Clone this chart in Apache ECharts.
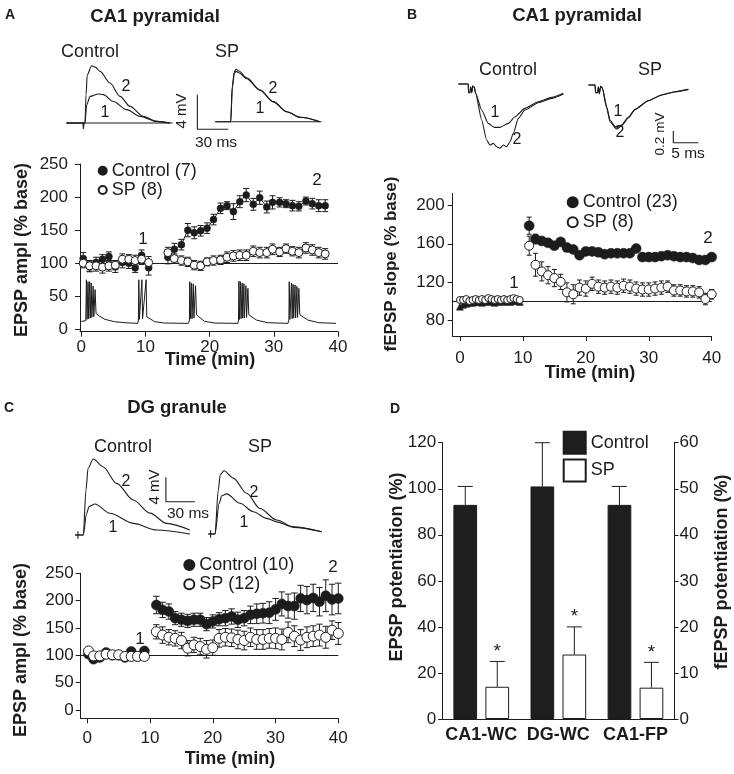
<!DOCTYPE html>
<html>
<head>
<meta charset="utf-8">
<script src="https://cdn.jsdelivr.net/npm/echarts@6.0.0/dist/echarts.min.js"></script>
<style>
  html, body { margin: 0; padding: 0; background: #fff; }
  #chart { width: 734px; height: 774px; }
</style>
</head>
<body>
<div id="chart"></div>
<script>
// ---------- panel A : CA1 pyramidal, whole-cell ----------
const aBaseT = [0.3, 1.3, 2.3, 3.3, 4.3, 5.3, 6.4, 7.4, 8.4, 9.4, 10.5]
const aCtrlBase = [107, 95, 101, 106, 110, 95, 101, 100, 93, 112, 93]
const aCtrlBaseErr = [9, 8, 8, 7, 7, 9, 8, 8, 7, 8, 11]
const aSpBase = [100, 96, 96, 94, 96, 97, 106, 106, 104, 106, 101]
const aSpBaseErr = [7, 8, 8, 9, 8, 7, 8, 7, 8, 8, 9]
const aPostT = [13.5, 14.5, 15.6, 16.6, 17.6, 18.6, 19.6, 20.6, 21.7, 22.7, 23.7, 24.7, 25.7, 26.8, 27.8, 28.9, 29.8, 30.9, 31.9, 32.9, 33.9, 35.0, 36.0, 37.0, 38.0]
const aCtrlPost = [109, 121, 128, 150, 146, 149, 153, 166, 183, 187, 178, 193, 203, 189, 199, 185, 192, 192, 190, 187, 186, 194, 190, 187, 187]
const aCtrlPostErr = [10, 9, 8, 10, 9, 8, 8, 8, 8, 6, 12, 9, 10, 9, 10, 9, 10, 7, 6, 8, 7, 6, 8, 9, 9]
const aSpPost = [116, 107, 104, 102, 97, 96, 102, 104, 105, 109, 111, 112, 112, 118, 116, 116, 121, 117, 122, 118, 116, 123, 120, 116, 114]
const aSpPostErr = [8, 7, 7, 7, 7, 7, 6, 7, 7, 8, 8, 8, 8, 8, 8, 8, 8, 7, 7, 7, 8, 8, 8, 8, 8]
// pairing protocol trace under the plot, [min, % units]
const aSpikeTrace = [
  [0.0, 12], [0.7, 13], [0.8, 75], [0.9, 15], [1.05, 72], [1.15, 16], [1.3, 72], [1.4, 17], [1.55, 70], [1.65, 18], [1.85, 65], [1.95, 19], [2.15, 60], [2.3, 24], [2.8, 20], [3.7, 15], [5.2, 11.5], [6.8, 10], [8.8, 9],
  [8.9, 14], [8.97, 75], [9.05, 15], [9.45, 75], [9.55, 16], [10.1, 75], [10.2, 19], [11.45, 11.5], [13, 9.5], [16.7, 9],
  [16.85, 14], [16.9, 72], [17.0, 16], [17.15, 70], [17.25, 16], [17.45, 69], [17.55, 17], [17.8, 66], [17.95, 22], [19.2, 12], [20.8, 9.5], [24.4, 9],
  [24.5, 14], [24.56, 73], [24.65, 15], [24.8, 72], [24.9, 16], [25.07, 70], [25.15, 17], [25.34, 69], [25.4, 17], [25.65, 66], [25.75, 18], [25.96, 62], [26.1, 22], [27.3, 14], [29, 10], [32.2, 9],
  [32.35, 14], [32.4, 72], [32.5, 15], [32.75, 70], [32.85, 16], [33.0, 68], [33.1, 17], [33.3, 67], [33.4, 17], [33.6, 65], [33.7, 18], [33.9, 62], [34.05, 22], [35.3, 14], [37, 10], [39.7, 9]
]
// EPSP traces [ms, mV]
const aCtrlTrace1 = [[-18, 0], [0, 0], [1.6, 2.1], [4.9, 3.1], [12.9, 3.37], [17.8, 3.3], [27.5, 2.5], [40.5, 1.55], [53.4, 0.77], [69.6, 0.19], [82.5, 0]]
const aCtrlTrace2 = [[-18, 0], [0, 0], [1, 3.3], [2.2, 5.6], [6.5, 6.66], [10, 6.5], [14.6, 6.0], [24.3, 4.65], [34, 3.1], [43.7, 1.93], [56.6, 0.77], [69.6, 0.19], [82.5, 0]]
const aSpTrace1 = [[-15, 0], [0, 0], [1.6, 4.0], [3.5, 5.6], [5.1, 5.85], [8, 5.7], [15.5, 5.0], [28.4, 3.65], [41.4, 2.3], [54.4, 1.16], [67.3, 0.51], [86.7, 0]]
const aSpTrace2 = [[-15, 0], [0, 0], [1.6, 4.2], [3.5, 5.8], [5.1, 6.1], [8, 5.9], [15.5, 5.1], [28.4, 3.7], [41.4, 2.33], [54.4, 1.16], [67.3, 0.51], [86.7, 0]]

// ---------- panel B : CA1 pyramidal, field ----------
const bBaseT = [0, 0.5, 1, 1.5, 2, 2.5, 3, 3.5, 4, 4.5, 5, 5.5, 6, 6.5, 7, 7.5, 8, 8.5, 9, 9.5]
const bCtrlBase = [94, 96, 97, 98, 98, 99, 99, 98, 99, 100, 99, 98, 99, 100, 99, 100, 99, 100, 100, 99]
const bSpBase = [101, 101, 102, 100, 101, 102, 101, 102, 101, 103, 102, 101, 102, 101, 102, 101, 102, 103, 102, 101]
const bPostT = [11, 12, 13, 14, 15, 16, 17, 18, 19, 20, 21, 22, 23, 24, 25, 26, 27, 28, 29, 30, 31, 32, 33, 34, 35, 36, 37, 38, 39, 40]
const bCtrlPost = [179, 165, 163, 161, 158, 162, 156, 154, 148, 152, 152, 151, 149, 150, 150, 150, 150, 155, 146, 146, 146, 147, 148, 147, 146, 146, 145, 143, 143, 146]
const bCtrlErr = [9, 5, 4, 4, 3, 3, 3, 3, 3, 3, 3, 3, 3, 3, 3, 3, 3, 3, 3, 3, 3, 3, 3, 3, 3, 3, 3, 3, 3, 3]
const bSpPost = [158, 138, 131, 127, 124, 120, 109, 107, 114, 113, 118, 115, 114, 115, 114, 116, 115, 113, 112, 112, 113, 114, 115, 111, 111, 110, 110, 109, 102, 107]
const bSpErr = [10, 12, 10, 9, 9, 8, 10, 10, 8, 8, 7, 7, 7, 7, 7, 7, 7, 7, 7, 7, 7, 7, 6, 6, 6, 6, 6, 6, 6, 5]
const bCtrlTrace1 = [[-2, 0], [0, 0], [0.05, -0.15], [0.33, -0.15], [0.47, -0.046], [0.67, -0.15], [0.87, -0.034], [1.2, -0.057], [1.47, -0.16], [2.67, -0.446], [4, -0.675], [5.2, -0.743], [6.33, -0.743], [8, -0.675], [9.33, -0.56], [11.3, -0.417], [14, -0.303], [16.7, -0.229], [19, -0.16]]
const bCtrlTrace2 = [[-2, 0], [0, 0], [0.05, -0.15], [0.33, -0.15], [0.47, -0.046], [0.67, -0.15], [0.87, -0.034], [1.2, -0.057], [1.47, -0.16], [2.67, -0.617], [3.67, -0.96], [4.33, -1.046], [5, -1.017], [5.67, -1.075], [6.33, -1.1], [7, -1.046], [7.67, -1.075], [8.33, -0.99], [9, -0.846], [10, -0.589], [11.3, -0.446], [14, -0.32], [16.7, -0.246], [19, -0.17]]
const bSpTrace1 = [[-1.33, 0], [0, 0], [0.13, -0.13], [0.53, -0.13], [0.67, -0.03], [0.87, -0.15], [1.13, -0.02], [1.47, -0.05], [2.33, -0.37], [3, -0.6], [4, -0.715], [5.33, -0.686], [6.67, -0.554], [8, -0.417], [10.67, -0.269], [13.33, -0.17], [16, -0.114], [18.67, -0.074]]
const bSpTrace2 = [[-1.33, 0], [0, 0], [0.13, -0.13], [0.53, -0.13], [0.67, -0.03], [0.87, -0.15], [1.13, -0.02], [1.47, -0.05], [2.33, -0.39], [3, -0.63], [4.33, -0.755], [5.33, -0.70], [6.67, -0.56], [8, -0.42], [10.67, -0.27], [13.33, -0.17], [16, -0.114], [18.67, -0.074]]

// ---------- panel C : DG granule ----------
const cBaseT = [0.2, 1, 2, 3, 4, 5, 6, 7, 8, 9.1]
const cCtrlBase = [102, 93, 96, 105, 100, 100, 96, 107, 98, 108]
const cSpBase = [108, 99, 99, 102, 101, 101, 98, 98, 98, 98]
const cPostT = [11, 12, 13, 14, 15, 16, 17, 18, 19, 20, 21, 22, 23, 24, 25, 26, 27, 28, 29, 30, 31, 32, 33, 34, 35, 36, 37, 38, 39, 40]
const cCtrlPost = [192, 183, 180, 168, 165, 163, 165, 165, 157, 162, 166, 168, 171, 165, 168, 174, 176, 177, 178, 184, 194, 190, 190, 204, 201, 205, 198, 209, 202, 204]
const cCtrlErr = [16, 14, 14, 12, 12, 12, 12, 12, 12, 12, 12, 14, 14, 14, 14, 16, 18, 18, 20, 20, 22, 22, 24, 24, 25, 25, 26, 29, 28, 28]
const cSpPost = [143, 137, 133, 131, 127, 113, 119, 116, 111, 114, 131, 133, 132, 129, 127, 133, 129, 129, 131, 131, 129, 142, 135, 128, 133, 135, 137, 133, 146, 140]
const cSpErr = [13, 15, 14, 14, 15, 14, 14, 15, 16, 14, 16, 16, 16, 17, 17, 17, 18, 18, 18, 19, 19, 19, 19, 19, 19, 19, 20, 20, 17, 20]
const cCtrlTrace1 = [[-8.6, 0], [0, 0], [3.5, 3.57], [6, 4.7], [12.1, 5.1], [27.6, 3.57], [51.7, 1.92], [75.9, 0.82], [110.3, 0.16]]
const cCtrlTrace2 = [[-8.6, 0], [0, 0], [2.8, 7.4], [5, 11], [10.3, 12.5], [20.7, 11.2], [34.5, 8.5], [51.7, 5.76], [69, 3.6], [86.2, 1.92], [110.3, 0.82]]
const cSpTrace1 = [[-6.9, 0], [0, 0], [4.4, 5.05], [7, 6.3], [12.1, 6.6], [25.9, 5.05], [39.6, 3.67], [53.5, 2.58], [63.8, 2.0], [81, 1.1], [110.3, 0.38]]
const cSpTrace2 = [[-6.9, 0], [0, 0], [3.4, 7.2], [5.5, 9.8], [9.3, 10.4], [18.9, 9.2], [32.8, 6.7], [46.5, 4.2], [63.8, 2.3], [81, 1.2], [110.3, 0.38]]

// ---------- panel D : summary ----------
const dGroups = ['CA1-WC', 'DG-WC', 'CA1-FP']
const dCtrl = [93, 101, 46.5]
const dCtrlErr = [8, 19, 4]
const dSp = [14, 28, 6.8]
const dSpErr = [11, 12, 5.5]
const dOnRightAxis = [false, false, true] // CA1-FP is fEPSP, read on the right axis

const INK = '#1c1c1c'
const FONT = '"Liberation Sans", Arial, Helvetica, sans-serif'
const MIN_TICKS = [0, 10, 20, 30, 40]
const BAR_W = 23.7
const BAR_GAP = 8.3

const pairs = (xs, ys) => xs.map((x, i) => [x, ys[i]])
const triples = (xs, ys, es) => xs.map((x, i) => [x, ys[i], es[i]])
const toLeft = (v, i) => dOnRightAxis[i] ? v * 2 : v

function grid (left, top, width, height) {
  return { left, top, width, height, outerBoundsMode: 'none', containLabel: false }
}
function hidden (gi, min, max) {
  return { gridIndex: gi, type: 'value', min, max, show: false }
}
function shownAxis (gi, min, max, ticks, margin, tickLen) {
  return {
    gridIndex: gi, type: 'value', min, max,
    axisLine: { show: true, onZero: false, lineStyle: { color: INK, width: 1 } },
    axisTick: { show: true, length: tickLen || 5, customValues: ticks, lineStyle: { color: INK } },
    axisLabel: { customValues: ticks, margin, fontSize: 17, color: INK, fontFamily: FONT },
    splitLine: { show: false }
  }
}
function trace (ai, data, smooth) {
  return {
    type: 'line', xAxisIndex: ai, yAxisIndex: ai, data, showSymbol: false, silent: true,
    smooth: smooth === undefined ? 0.3 : smooth, smoothMonotone: 'x',
    lineStyle: { color: INK, width: 1.1 }, z: 2
  }
}
function errorBars (ai, data, cap) {
  return {
    type: 'custom', xAxisIndex: ai, yAxisIndex: ai, z: 1, silent: true, data,
    encode: { x: 0, y: 1 },
    renderItem (params, api) {
      const t = api.value(0)
      const v = api.value(1)
      const e = api.value(2)
      const hi = api.coord([t, v + e])
      const lo = api.coord([t, v - e])
      const x = hi[0]
      const style = { stroke: INK, lineWidth: 1 }
      return {
        type: 'group',
        children: [
          { type: 'line', shape: { x1: x, y1: hi[1], x2: x, y2: lo[1] }, style },
          { type: 'line', shape: { x1: x - cap, y1: hi[1], x2: x + cap, y2: hi[1] }, style },
          { type: 'line', shape: { x1: x - cap, y1: lo[1], x2: x + cap, y2: lo[1] }, style }
        ]
      }
    }
  }
}
function dots (ai, name, data, size, open, symbol) {
  return {
    type: 'scatter', name, xAxisIndex: ai, yAxisIndex: ai, data, silent: true,
    symbol: symbol || 'circle', symbolSize: size, z: 3,
    itemStyle: open
      ? { color: '#fff', borderColor: INK, borderWidth: 1, opacity: 1 }
      : { color: INK, borderColor: INK, borderWidth: 0.5, opacity: 1 }
  }
}
function line100 () {
  return {
    silent: true, symbol: 'none', z: 1, label: { show: false },
    lineStyle: { color: INK, width: 1, type: 'solid' },
    data: [{ yAxis: 100 }]
  }
}
function barErrors (vals, errs, side) {
  return {
    type: 'custom', xAxisIndex: 9, yAxisIndex: 9, z: 3, silent: true,
    data: dGroups.map((g, i) => [i, toLeft(vals[i], i), toLeft(errs[i], i)]),
    renderItem (params, api) {
      const i = api.value(0)
      const base = api.coord([i, api.value(1)])
      const top = api.coord([i, api.value(1) + api.value(2)])
      const x = base[0] + side * (BAR_W + BAR_GAP) / 2
      const style = { stroke: INK, lineWidth: 1 }
      const kids = [
        { type: 'line', shape: { x1: x, y1: base[1], x2: x, y2: top[1] }, style },
        { type: 'line', shape: { x1: x - 7.5, y1: top[1], x2: x + 7.5, y2: top[1] }, style }
      ]
      if (side > 0) {
        kids.push({ type: 'text', x, y: top[1] - 10, style: { text: '*', fill: INK, fontSize: 19, fontFamily: FONT, align: 'center', verticalAlign: 'middle' } })
      }
      return { type: 'group', children: kids }
    }
  }
}
function txt (text, x, y, size, bold, rotate) {
  return {
    type: 'text', x, y, rotation: rotate ? Math.PI / 2 : 0, silent: true,
    style: { text, fill: INK, fontSize: size, fontWeight: bold ? 'bold' : 'normal', fontFamily: FONT, align: 'center', verticalAlign: 'middle' }
  }
}
function legendBlock (names, left, top, size, gap) {
  return {
    data: names.map(n => ({ name: n, icon: 'circle' })),
    orient: 'vertical', left, top, itemWidth: size, itemHeight: size, itemGap: gap,
    padding: 0, selectedMode: false,
    textStyle: { fontSize: 18, color: INK, fontFamily: FONT }
  }
}

const option = {
  animation: false,
  backgroundColor: '#fff',
  textStyle: { fontFamily: FONT },
  grid: [
    grid(80, 164, 258, 167.7), // 0 A main
    grid(64.4, 58.5, 113.3, 73.1), // 1 A control traces
    grid(194.65, 57.2, 128.75, 77.4), // 2 A SP traces
    grid(452.7, 193.3, 259, 142.7), // 3 B main
    grid(458.3, 78.2, 110, 75.8), // 4 B control traces
    grid(585, 79.2, 115, 75.8), // 5 B SP traces
    grid(80.7, 573.3, 257.6, 145), // 6 C main
    grid(73.6, 456, 121.8, 85.1), // 7 C control traces
    grid(205.3, 455, 120.9, 85.1), // 8 C SP traces
    grid(442.7, 442.7, 231.3, 276.3) // 9 D
  ],
  xAxis: [
    shownAxis(0, -0.2, 40, MIN_TICKS, 7),
    hidden(1, -20, 90),
    hidden(2, -35, 90),
    shownAxis(3, -1.15, 40, MIN_TICKS, 14),
    hidden(4, -2, 20),
    hidden(5, -2, 21),
    shownAxis(6, -1.05, 40, MIN_TICKS, 12),
    hidden(7, -10, 116),
    hidden(8, -10, 115),
    {
      gridIndex: 9, type: 'category', data: dGroups,
      axisLine: { show: true, lineStyle: { color: INK, width: 1 } },
      axisTick: { show: false },
      axisLabel: { interval: 0, hideOverlap: false, margin: 7, fontSize: 18, fontWeight: 'bold', color: INK, fontFamily: FONT }
    }
  ],
  yAxis: [
    shownAxis(0, -3.6, 250, [0, 50, 100, 150, 200, 250], 12),
    hidden(1, -1, 7.5),
    hidden(2, -1.5, 7.5),
    shownAxis(3, 63.2, 213, [80, 120, 160, 200], 8),
    hidden(4, -1.2, 0.1),
    hidden(5, -1.2, 0.1),
    shownAxis(6, -15.2, 250, [0, 50, 100, 150, 200, 250], 7),
    hidden(7, -1, 13),
    hidden(8, -1, 13),
    {
      gridIndex: 9, type: 'value', min: 0, max: 120, interval: 20, position: 'left',
      axisLine: { show: true, lineStyle: { color: INK } },
      axisTick: { show: true, length: 4.5, lineStyle: { color: INK } },
      axisLabel: { margin: 6.5, fontSize: 17, color: INK, fontFamily: FONT },
      splitLine: { show: false }
    },
    {
      gridIndex: 9, type: 'value', min: 0, max: 60, interval: 10, position: 'right',
      axisLine: { show: true, lineStyle: { color: INK } },
      axisTick: { show: true, length: 4.5, lineStyle: { color: INK } },
      axisLabel: { margin: 5.5, fontSize: 17, color: INK, fontFamily: FONT },
      splitLine: { show: false }
    }
  ],
  legend: [
    legendBlock(['Control (7)', 'SP (8)'], 97.7, 161.7, 8, 1.3),
    legendBlock(['Control (23)', 'SP (8)'], 566.7, 193.3, 10, 2),
    legendBlock(['Control (10)', 'SP (12)'], 183.3, 556, 10, 1.3),
    {
      data: [{ name: 'Control', icon: 'rect' }, { name: 'SP', icon: 'rect' }],
      orient: 'vertical', left: 562.7, top: 430.7, itemWidth: 22, itemHeight: 22, itemGap: 3.8,
      padding: 0, selectedMode: false,
      textStyle: { fontSize: 18, color: INK, fontFamily: FONT }
    }
  ],
  series: [
    // A
    Object.assign(trace(0, aSpikeTrace, false), { lineStyle: { color: INK, width: 1 }, markLine: line100() }),
    Object.assign(trace(0, pairs(aBaseT, aCtrlBase), false), { lineStyle: { color: INK, width: 1 } }),
    Object.assign(trace(0, pairs(aPostT, aCtrlPost), false), { lineStyle: { color: INK, width: 1 } }),
    Object.assign(trace(0, pairs(aBaseT, aSpBase), false), { lineStyle: { color: INK, width: 1 } }),
    Object.assign(trace(0, pairs(aPostT, aSpPost), false), { lineStyle: { color: INK, width: 1 } }),
    errorBars(0, triples(aBaseT.concat(aPostT), aCtrlBase.concat(aCtrlPost), aCtrlBaseErr.concat(aCtrlPostErr)), 3),
    errorBars(0, triples(aBaseT.concat(aPostT), aSpBase.concat(aSpPost), aSpBaseErr.concat(aSpPostErr)), 3),
    dots(0, 'Control (7)', pairs(aBaseT.concat(aPostT), aCtrlBase.concat(aCtrlPost)), 7, false),
    dots(0, 'SP (8)', pairs(aBaseT.concat(aPostT), aSpBase.concat(aSpPost)), 8, true),
    trace(1, [[-18, 0], [85, 0]], false),
    trace(1, aCtrlTrace1),
    trace(1, aCtrlTrace2),
    trace(1, [[-2, 0], [-1.5, -0.7], [-1, 0]], false),
    trace(2, [[-1, 0], [88, 0]], false),
    trace(2, aSpTrace1),
    trace(2, aSpTrace2),
    trace(2, [[-32.4, 3.12], [-32.4, -0.88], [-2.4, -0.88]], false),
    // B
    errorBars(3, triples(bPostT, bCtrlPost, bCtrlErr), 2.5),
    errorBars(3, triples(bPostT, bSpPost, bSpErr), 2.5),
    Object.assign(dots(3, 'bCtrlBase', pairs(bBaseT, bCtrlBase), 7, false, 'triangle'), { markLine: line100() }),
    dots(3, 'bSpBase', pairs(bBaseT, bSpBase), 7, true),
    dots(3, 'Control (23)', pairs(bPostT, bCtrlPost), 10, false),
    dots(3, 'SP (8)', pairs(bPostT, bSpPost), 9, true),
    trace(4, bCtrlTrace1, 0.2),
    trace(4, bCtrlTrace2, 0.2),
    trace(5, bSpTrace1, 0.2),
    trace(5, bSpTrace2, 0.2),
    trace(5, [[15.66, -0.789], [15.66, -0.989], [20.66, -0.989]], false),
    // C
    errorBars(6, triples(cPostT, cCtrlPost, cCtrlErr), 3.2),
    errorBars(6, triples(cPostT, cSpPost, cSpErr), 3.2),
    Object.assign(dots(6, 'Control (10)', pairs(cBaseT.concat(cPostT), cCtrlBase.concat(cCtrlPost)), 10, false), { markLine: line100() }),
    dots(6, 'SP (12)', pairs(cBaseT.concat(cPostT), cSpBase.concat(cSpPost)), 10, true),
    trace(7, cCtrlTrace1),
    trace(7, cCtrlTrace2),
    trace(7, [[-5.5, 0.6], [-5.5, -0.6]], false),
    trace(7, [[85.5, 9.49], [85.5, 5.48], [115.5, 5.48]], false),
    trace(8, cSpTrace1),
    trace(8, cSpTrace2),
    trace(8, [[-4.5, 0.6], [-4.5, -0.6]], false),
    // D
    {
      type: 'bar', name: 'Control', xAxisIndex: 9, yAxisIndex: 9, silent: true,
      barWidth: BAR_W, barGap: (BAR_GAP / BAR_W * 100).toFixed(1) + '%',
      data: dCtrl.map(toLeft),
      itemStyle: { color: '#1e1e1e', borderColor: INK, borderWidth: 1 }
    },
    {
      type: 'bar', name: 'SP', xAxisIndex: 9, yAxisIndex: 9, silent: true,
      barWidth: BAR_W,
      data: dSp.map(toLeft),
      itemStyle: { color: '#fff', borderColor: INK, borderWidth: 1 }
    },
    barErrors(dCtrl, dCtrlErr, -1),
    barErrors(dSp, dSpErr, 1)
  ],
  graphic: [
    // A
    txt('A', 10, 15, 14, true),
    txt('CA1 pyramidal', 155, 17, 18.5, true),
    txt('Control', 90, 52, 18),
    txt('SP', 227, 52, 18),
    txt('2', 126, 87, 16), txt('1', 105, 113, 16),
    txt('2', 273, 89, 16), txt('1', 260, 109, 16),
    txt('4 mV', 182, 111, 15, false, true),
    txt('30 ms', 216, 143, 15.5),
    txt('1', 143, 239, 17), txt('2', 317, 180, 17),
    txt('EPSP ampl (% base)', 21.7, 250, 18, true, true),
    txt('Time (min)', 210, 360, 18, true),
    // B
    txt('B', 412, 15, 14, true),
    txt('CA1 pyramidal', 577, 16, 18.5, true),
    txt('Control', 508, 70, 18),
    txt('SP', 650, 70, 18),
    txt('1', 495, 113, 16), txt('2', 517, 140, 16),
    txt('1', 618, 112, 16), txt('2', 620, 133, 16),
    txt('0.2 mV', 660, 134, 13.5, false, true),
    txt('5 ms', 688, 154, 15.5),
    txt('1', 514, 283, 17), txt('2', 708, 238, 17),
    txt('fEPSP slope (% base)', 391, 264, 17, true, true),
    txt('Time (min)', 590, 373, 18, true),
    // C
    txt('C', 9, 408, 14, true),
    txt('DG granule', 177, 408, 18.5, true),
    txt('Control', 123, 447, 18),
    txt('SP', 260, 447, 18),
    txt('2', 126, 482, 16), txt('1', 113, 528, 16),
    txt('2', 254, 493, 16), txt('1', 244, 523, 16),
    txt('4 mV', 155, 487, 15, false, true),
    txt('30 ms', 188, 514, 15.5),
    txt('1', 140, 639, 17), txt('2', 333, 567, 17),
    txt('EPSP ampl (% base)', 20.7, 650, 18, true, true),
    txt('Time (min)', 230, 759, 18, true),
    // D
    txt('D', 395, 409, 14, true),
    txt('EPSP potentiation (%)', 397, 567, 18, true, true),
    txt('fEPSP potentiation (%)', 721.7, 572, 18, true, true)
  ]
}

const chart = echarts.init(document.getElementById('chart'), null, { renderer: 'canvas' })
chart.setOption(option)
window.addEventListener('resize', () => chart.resize())
</script>
</body>
</html>
